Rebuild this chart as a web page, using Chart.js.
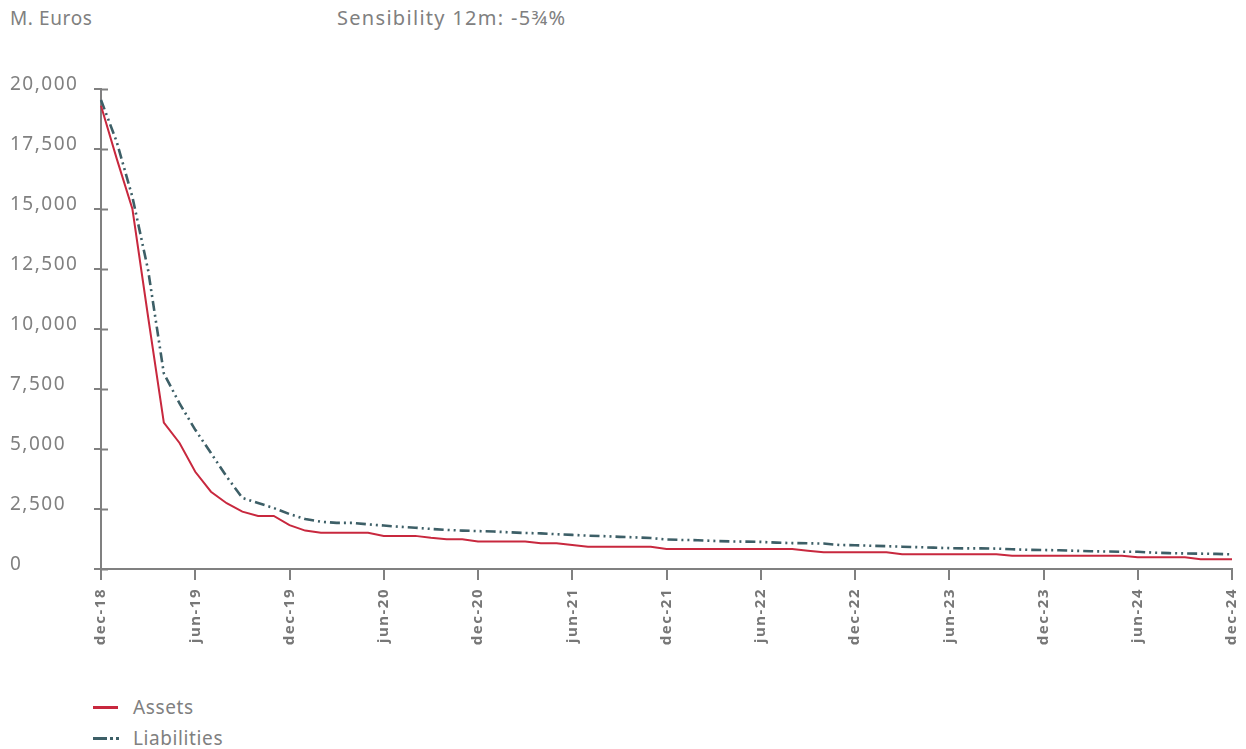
<!DOCTYPE html>
<html>
<head>
<meta charset="utf-8">
<script src="https://cdn.jsdelivr.net/npm/chart.js@4/dist/chart.umd.min.js"></script>
<style>
    html, body { margin: 0; padding: 0; background: #fff; overflow: hidden; }
    body { width: 1246px; height: 749px; position: relative; font-family: 'Noto Sans', sans-serif; color: #808080; }
    .txt { position: absolute; font-size: 19px; line-height: 20px; white-space: nowrap; letter-spacing: 0.6px; }
    #wrap { position: absolute; left: 0; top: 0; width: 1246px; height: 680px; }
    .sw { position: absolute; height: 3px; }
</style>
</head>
<body>
<div class="txt" style="left:10px;top:8px;">M. Euros</div>
<div class="txt" style="left:337px;top:8px;letter-spacing:1.3px;font-size:20px;">Sensibility 12m: -5¾%</div>
<div id="wrap"><canvas id="chart"></canvas></div>
<div id="legend"></div>
<script>
const months = [
    'dec-18',
    'jan-19', 'feb-19', 'mar-19', 'apr-19', 'may-19', 'jun-19', 'jul-19', 'aug-19', 'sep-19', 'oct-19', 'nov-19', 'dec-19',
    'jan-20', 'feb-20', 'mar-20', 'apr-20', 'may-20', 'jun-20', 'jul-20', 'aug-20', 'sep-20', 'oct-20', 'nov-20', 'dec-20',
    'jan-21', 'feb-21', 'mar-21', 'apr-21', 'may-21', 'jun-21', 'jul-21', 'aug-21', 'sep-21', 'oct-21', 'nov-21', 'dec-21',
    'jan-22', 'feb-22', 'mar-22', 'apr-22', 'may-22', 'jun-22', 'jul-22', 'aug-22', 'sep-22', 'oct-22', 'nov-22', 'dec-22',
    'jan-23', 'feb-23', 'mar-23', 'apr-23', 'may-23', 'jun-23', 'jul-23', 'aug-23', 'sep-23', 'oct-23', 'nov-23', 'dec-23',
    'jan-24', 'feb-24', 'mar-24', 'apr-24', 'may-24', 'jun-24', 'jul-24', 'aug-24', 'sep-24', 'oct-24', 'nov-24', 'dec-24'
];

const assets = [
    19300,
    17100, 15000, 10500, 6100, 5250, 4050, 3220, 2740, 2390, 2210, 2210, 1830,
    1600, 1510, 1510, 1510, 1510, 1380, 1380, 1380, 1300, 1240, 1240, 1150,
    1150, 1150, 1150, 1070, 1070, 1000, 930, 930, 930, 930, 930, 833,
    833, 833, 833, 833, 833, 833, 833, 833, 760, 694, 700, 700,
    700, 700, 611, 611, 611, 611, 611, 611, 611, 555, 555, 555,
    555, 555, 555, 555, 555, 486, 486, 486, 486, 402, 402, 402
];

const liabilities = [
    19540,
    17800, 15500, 12450, 8150, 6900, 5800, 4830, 3850, 2960, 2750, 2540, 2290,
    2080, 1970, 1920, 1920, 1860, 1810, 1760, 1720, 1670, 1630, 1600, 1580,
    1560, 1530, 1500, 1486, 1450, 1420, 1390, 1370, 1340, 1320, 1290, 1230,
    1210, 1200, 1170, 1150, 1140, 1130, 1100, 1080, 1070, 1060, 1000, 990,
    970, 950, 930, 910, 890, 870, 860, 860, 850, 820, 800, 790,
    780, 760, 740, 730, 720, 720, 680, 660, 650, 640, 630, 610
];

const yTicks = [0, 2500, 5000, 7500, 10000, 12500, 15000, 17500, 20000];

const RED = '#c8283e';
const TEAL = '#3d5f67';
const AXIS = '#808080';

// inner half of the y ticks (they cross the axis line) + wider letter spacing
const innerTicks = {
    id: 'innerTicks',
    beforeDraw(chart) {
        chart.ctx.letterSpacing = '1.5px';
    },
    beforeDatasetsDraw(chart) {
        const y = chart.scales.y;
        const ctx = chart.ctx;
        ctx.save();
        ctx.strokeStyle = AXIS;
        ctx.lineWidth = 2;
        y.ticks.forEach(t => {
            const py = Math.round(y.getPixelForValue(t.value)) + 0.5;
            ctx.beginPath();
            ctx.moveTo(chart.chartArea.left, py);
            ctx.lineTo(chart.chartArea.left + 7, py);
            ctx.stroke();
        });
        ctx.restore();
    }
};

const chart = new Chart(document.getElementById('chart').getContext('2d'), {
    type: 'line',
    data: {
        labels: months,
        datasets: [
            { label: 'Assets', data: assets, borderColor: RED, backgroundColor: RED, borderWidth: 2, pointRadius: 0, tension: 0 },
            { label: 'Liabilities', data: liabilities, borderColor: TEAL, backgroundColor: TEAL, borderWidth: 2.6, borderDash: [10, 4, 2, 4, 2, 4], pointRadius: 0, tension: 0 }
        ]
    },
    options: {
        responsive: true, maintainAspectRatio: false, animation: false,
        layout: { padding: { left: 10, right: 14, top: 89, bottom: 0 } },
        plugins: { legend: { display: false }, tooltip: { enabled: false } },
        scales: {
            x: {
                grid: { drawOnChartArea: false, drawTicks: true, tickLength: 11, color: AXIS, lineWidth: 2 },
                border: { color: AXIS, width: 2 },
                ticks: {
                    autoSkip: false, minRotation: 90, maxRotation: 90, padding: 8,
                    color: '#777', font: { family: 'Noto Sans', size: 15, weight: 'bold' },
                    callback: (v, i) => (i % 6 === 0 ? months[i] : null)
                },
                afterFit: (s) => { s.height = 111; s.paddingLeft = 0; s.paddingRight = 0; }
            },
            y: {
                min: 0, max: 20000,
                afterBuildTicks: (s) => { s.ticks = yTicks.map(v => ({ value: v })); },
                grid: { drawOnChartArea: false, drawTicks: true, tickLength: 7, color: AXIS, lineWidth: 2 },
                border: { color: AXIS, width: 2 },
                ticks: {
                    crossAlign: 'far', padding: 8, labelOffset: -4,
                    color: AXIS, font: { family: 'Noto Sans', size: 19 },
                    callback: (v) => v.toLocaleString('en-US')
                },
                afterFit: (s) => { s.width = 91; }
            }
        }
    },
    plugins: [innerTicks]
});

// legend stacked vertically under the chart
const legend = document.getElementById('legend');
chart.data.datasets.forEach((ds, i) => {
    const top = 707 + i * 31;
    const label = document.createElement('div');
    label.className = 'txt';
    label.style.left = '133px';
    label.style.top = (top - 10) + 'px';
    label.textContent = ds.label;
    legend.appendChild(label);
    const parts = i === 0 ? [[93, 25]] : [[93, 14], [110, 3], [116, 3]];
    parts.forEach(([x, w]) => {
        const s = document.createElement('div');
        s.className = 'sw';
        s.style.left = x + 'px';
        s.style.top = (top - 1) + 'px';
        s.style.width = w + 'px';
        s.style.background = ds.borderColor;
        legend.appendChild(s);
    });
});
</script>
</body>
</html>
